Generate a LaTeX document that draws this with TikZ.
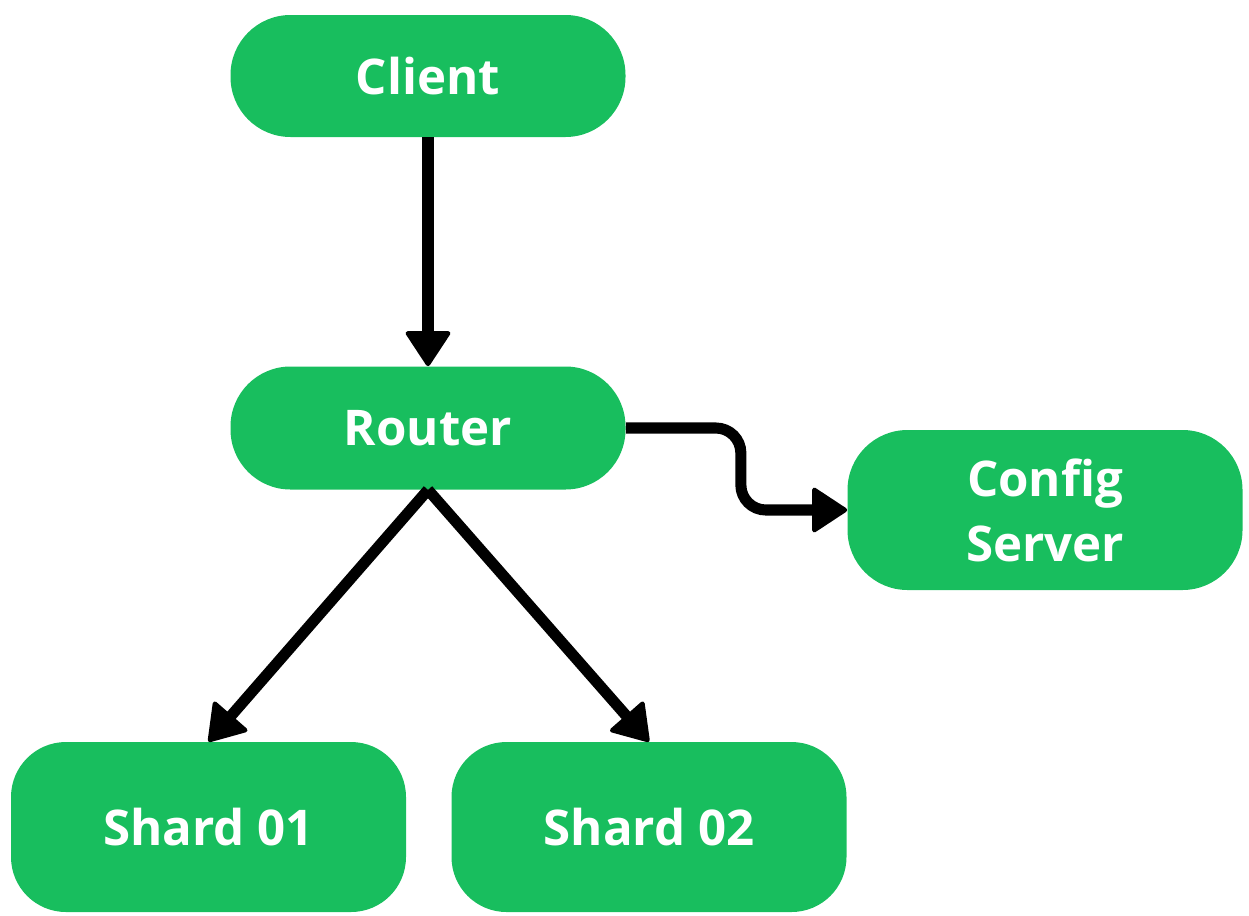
\documentclass[tikz,border=0pt]{standalone}
\usepackage{fontspec}
\setmainfont{Open Sans}
\usetikzlibrary{arrows.meta, positioning}

\definecolor{boxgreen}{RGB}{24,190,94}

\begin{document}
\begin{tikzpicture}[
        box/.style={rectangle, rounded corners=1.2cm, fill=boxgreen, draw=none,
            text=white, font=\fontsize{28}{37}\selectfont\bfseries,
            align=center, inner sep=0pt, minimum width=7.9cm},
        link/.style={line width=6.3pt, draw=black,
            -{Triangle[length=21pt,width=27pt,line width=2.5pt,round]}},
    ]
    \useasboundingbox (0,0) rectangle (24.98,-18.3);

    \node[box, minimum height=2.44cm] (client) at (8.56,-1.52) {Client};
    \node[box, minimum height=2.46cm] (router) at (8.56,-8.56) {Router};
    \node[box, minimum height=3.2cm] (config) at (20.9,-10.2) {Config\\Server};
    \node[box, minimum height=3.4cm, rounded corners=1.1cm] (shard1) at (4.17,-16.54) {Shard 01};
    \node[box, minimum height=3.4cm, rounded corners=1.1cm] (shard2) at (12.98,-16.54) {Shard 02};

    \draw[link] (client) -- (router);
    \draw[link] (router.south) -- (shard1.north);
    \draw[link] (router.south) -- (shard2.north);
    \draw[link, rounded corners=0.5cm] (router.east) -- ++(2.3,0) |- (config.west);

\end{tikzpicture}
\end{document}
